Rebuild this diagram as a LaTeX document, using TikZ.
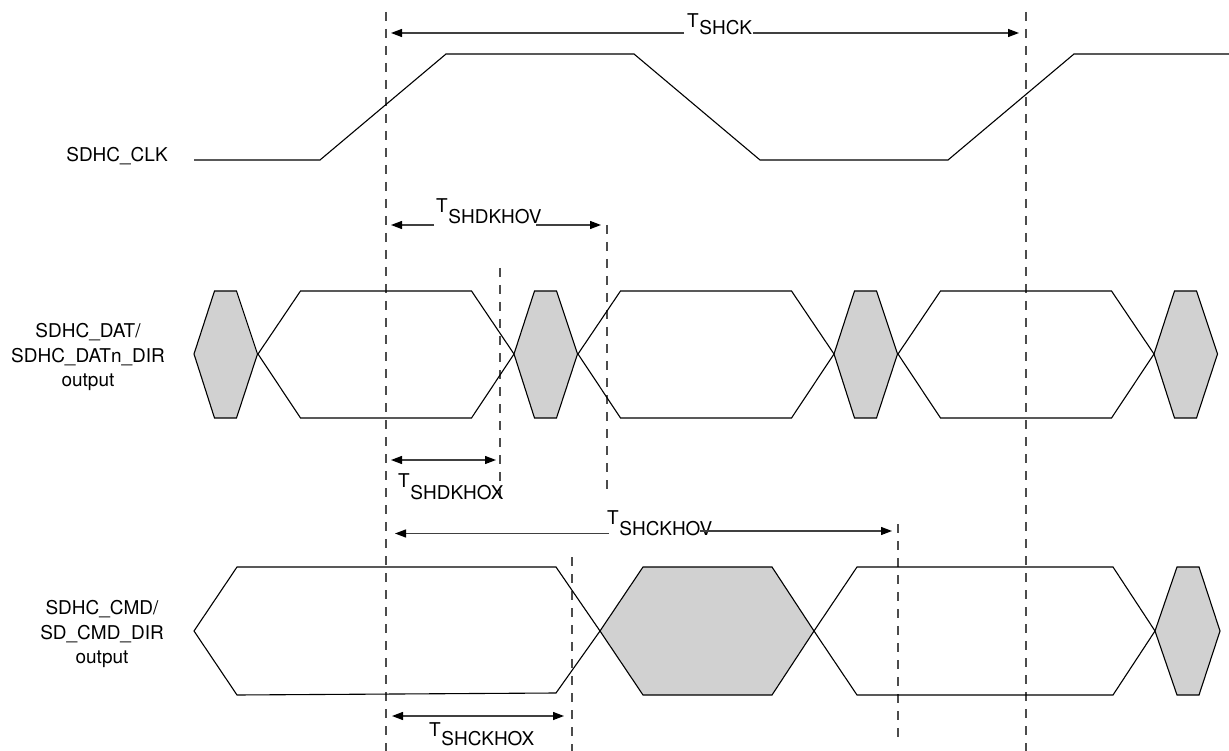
\documentclass[tikz,border=0pt]{standalone}
\usepackage{fontspec}
\setmainfont{TeX Gyre Heros}
\usetikzlibrary{arrows.meta}
\tikzset{
  wave/.style={draw=black,line width=1.1pt,line join=miter},
  shade/.style={draw=black,fill=black!18,line width=1.1pt},
  guide/.style={draw=black!70,line width=1.1pt,dash pattern=on 9pt off 8pt},
  dim/.style={draw=black!75,line width=1.3pt,-{Triangle[length=11pt,width=8pt,color=black]}},
  dimboth/.style={draw=black!75,line width=1.3pt,{Triangle[length=11pt,width=8pt,color=black]}-{Triangle[length=11pt,width=8pt,color=black]}},
  siglabel/.style={font=\fontsize{19pt}{24.4pt}\selectfont,align=center,inner sep=0pt},
  timing/.style={font=\fontsize{19pt}{24pt}\selectfont,anchor=base west,inner sep=0pt}
}
\newcommand{\tsub}[2]{T\kern0.6pt\raisebox{-#2pt}{#1}}
\begin{document}
\begin{tikzpicture}[x=1pt,y=-1pt]
\useasboundingbox (0,0) rectangle (1229,751);
% guides
\coordinate (g1a) at (386,12); \coordinate (g1b) at (386,751);
\coordinate (g2a) at (1026,12); \coordinate (g2b) at (1026,751);
\coordinate (g3a) at (607,225); \coordinate (g3b) at (607,493);
\coordinate (g4a) at (500,268); \coordinate (g4b) at (500,500);
\coordinate (g5a) at (898,524); \coordinate (g5b) at (898,740);
\coordinate (g6a) at (572,557); \coordinate (g6b) at (572,751);
\foreach \g in {1,...,6} \draw[guide] (g\g a) -- (g\g b);
% clock
\draw[wave] (194,160) -- (320,160) -- (446,54) -- (634,54) -- (760,160) -- (948,160) -- (1074,54) -- (1229,54);
% DAT row
\foreach \x in {194,514,834,1154}
  \draw[shade] (\x,354) -- ++(20.5,-63) -- ++(22,0) -- ++(21,63) -- ++(-21,64) -- ++(-22,0) -- cycle;
\foreach \x in {258,578,898}
  \draw[wave] (\x,354) -- ++(42.5,-63) -- ++(171,0) -- ++(42.5,63)
              (\x,354) -- ++(42.5,64) -- ++(171,0) -- ++(42.5,-64);
% CMD row
\draw[shade] (600,631) -- (643,567) -- (772,567) -- (814,631) -- (772,695) -- (643,695) -- cycle;
\draw[wave] (600,631) -- (556,567) -- (237,567) -- (194,631) -- (237,695) -- (556,693) -- cycle;
\draw[wave] (814,631) -- (857,567) -- (1113,567) -- (1155,631) -- (1113,695) -- (857,695) -- cycle;
\draw[shade] (1155,631) -- (1177,567) -- (1199,567) -- (1220,631) -- (1199,695) -- (1177,695) -- cycle;
% labels
\node[siglabel] (clk) at (117,156) {SDHC\_CLK};
\node[siglabel] (dat) at (88,357) {SDHC\_DAT/\\SDHC\_DATn\_DIR\\output};
\node[siglabel] (cmd) at (102,634) {SDHC\_CMD/\\SD\_CMD\_DIR\\output};
% timing labels
\node[timing] (tck) at (687,28) {\tsub{SHCK}{7}};
\node[timing] (tdv) at (436,213) {\tsub{SHDKHOV}{11}};
\node[timing] (tdx) at (398,487) {\tsub{SHDKHOX}{12}};
\node[timing] (tcv) at (607,524.5) {\tsub{SHCKHOV}{11}};
\node[timing] (tcx) at (429,736) {\tsub{SHCKHOX}{9.5}};
% dimension arrows
\coordinate (a1l) at (391,33); \coordinate (a1r) at (1019,33);
\coordinate (a1m) at (684,33); \coordinate (a1n) at (753,33);
\draw[dim] (a1m) -- (a1l); \draw[dim] (a1n) -- (a1r);
\coordinate (a2l) at (391,225); \coordinate (a2r) at (601,225);
\coordinate (a2m) at (434,225); \coordinate (a2n) at (536,225);
\draw[dim] (a2m) -- (a2l); \draw[dim] (a2n) -- (a2r);
\coordinate (a3l) at (391,460); \coordinate (a3r) at (496,460);
\draw[dimboth] (a3l) -- (a3r);
\coordinate (a4l) at (395,533.5); \coordinate (a4r) at (892,531);
\coordinate (a4m) at (609,533.5); \coordinate (a4n) at (700,531);
\draw[dim] (a4m) -- (a4l); \draw[dim] (a4n) -- (a4r);
\coordinate (a5l) at (392,716); \coordinate (a5r) at (564,716);
\draw[dimboth] (a5l) -- (a5r);
\end{tikzpicture}
\end{document}
